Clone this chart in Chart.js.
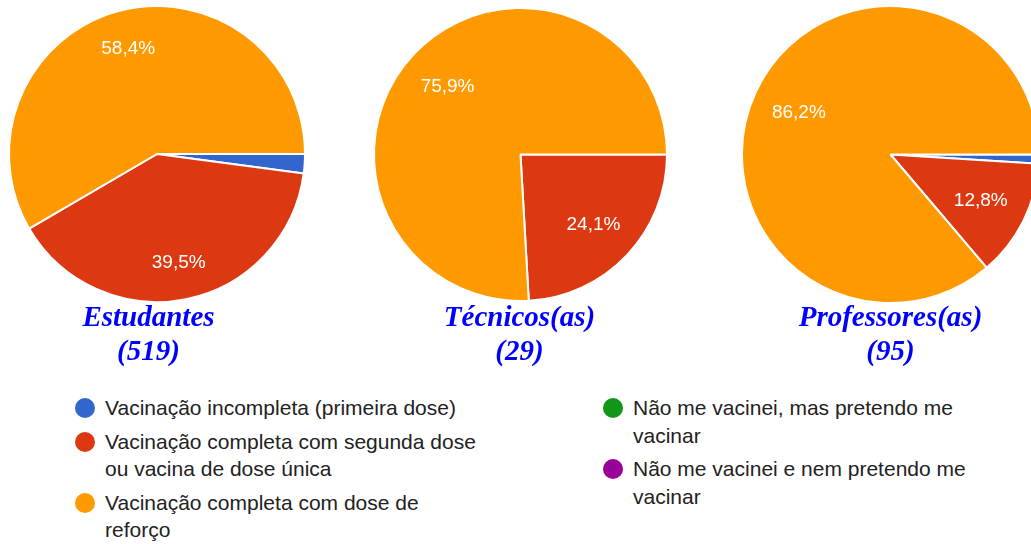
<!DOCTYPE html>
<html>
<head>
<meta charset="utf-8">
<script src="https://cdn.jsdelivr.net/npm/chart.js@4.4.1/dist/chart.umd.min.js"></script>
<style>
  html, body { margin: 0; padding: 0; background: #fff; }
  body { width: 1031px; height: 544px; overflow: hidden; position: relative; }
  canvas { position: absolute; }
  .title {
    position: absolute; width: 300px; text-align: center;
    font: italic bold 29px "Liberation Serif", "Times New Roman", serif;
    line-height: 34px; color: #0000ff;
  }
  .legend {
    position: absolute; top: 394px;
    font: 21px "Liberation Sans", Arial, sans-serif; color: #222; line-height: 27.5px;
  }
  .item { display: flex; align-items: flex-start; margin-bottom: 6px; }
  .dot { width: 20px; height: 20px; border-radius: 50%; flex: none; margin: 4px 10px 0 0; }
  .item span { max-width: 384px; }
</style>
</head>
<body>
<div class="legend" id="leg1" style="left:75px"></div>
<div class="legend" id="leg2" style="left:603px"></div>
<script>
// answer options (legend order = slice order)
const categories = [
  'Vacinação incompleta (primeira dose)',
  'Vacinação completa com segunda dose ou vacina de dose única',
  'Vacinação completa com dose de reforço',
  'Não me vacinei, mas pretendo me vacinar',
  'Não me vacinei e nem pretendo me vacinar'
];
const colors = ['#3366cc', '#dc3912', '#ff9900', '#109618', '#990099'];

// groups and respondent counts
const groups = ['Estudantes', 'Técnicos(as)', 'Professores(as)'];
const groupCounts = [519, 29, 95];

// percentages per group
const estudantesPct = [2.1, 39.5, 58.4, 0, 0];
const tecnicosPct = [0, 24.1, 75.9, 0, 0];
const professoresPct = [1.0, 12.8, 86.2, 0, 0];

// draws the white % text inside slices that are big enough
const pctLabels = {
  id: 'pctLabels',
  afterDatasetsDraw(chart, args, opts) {
    const ctx = chart.ctx;
    const meta = chart.getDatasetMeta(0);
    const data = chart.data.datasets[0].data;
    ctx.save();
    ctx.fillStyle = '#fff';
    ctx.font = '19px "Liberation Sans", Arial, sans-serif';
    ctx.textAlign = 'center';
    ctx.textBaseline = 'middle';
    meta.data.forEach((arc, i) => {
      if (data[i] < 5) return;
      const p = arc.getProps(['x', 'y', 'startAngle', 'endAngle', 'outerRadius'], true);
      const mid = (p.startAngle + p.endAngle) / 2;
      const r = p.outerRadius * opts.frac;
      ctx.fillText(data[i].toFixed(1).replace('.', ',') + '%',
        p.x + Math.cos(mid) * r, p.y + Math.sin(mid) * r + 1);
    });
    ctx.restore();
  }
};

function makePie(values, cx, cy, R, frac) {
  const size = Math.ceil(2 * R + 10);
  const cv = document.createElement('canvas');
  cv.width = size; cv.height = size;
  cv.style.left = (cx - size / 2) + 'px';
  cv.style.top = (cy - size / 2) + 'px';
  document.body.appendChild(cv);
  new Chart(cv, {
    type: 'pie',
    data: {
      labels: categories,
      datasets: [{
        data: values,
        backgroundColor: colors,
        borderColor: '#fff',
        borderWidth: 2
      }]
    },
    options: {
      responsive: false,
      animation: false,
      rotation: 90,
      radius: R + 1,
      layout: { padding: 0 },
      plugins: {
        legend: { display: false },
        tooltip: { enabled: false },
        pctLabels: { frac: frac }
      }
    },
    plugins: [pctLabels]
  });
}

function addTitle(i, cx) {
  const d = document.createElement('div');
  d.className = 'title';
  d.style.left = (cx - 150) + 'px';
  d.style.top = '299px';
  d.innerHTML = groups[i] + '<br>(' + groupCounts[i] + ')';
  document.body.appendChild(d);
}

makePie(estudantesPct, 157, 153.5, 147, 0.745);
makePie(tecnicosPct, 520.5, 154, 145.5, 0.685);
makePie(professoresPct, 890.5, 154.5, 147.5, 0.68);

addTitle(0, 148.5);
addTitle(1, 519.5);
addTitle(2, 890.5);

// html legend, split into two columns
categories.forEach((c, i) => {
  const item = document.createElement('div');
  item.className = 'item';
  item.innerHTML = '<div class="dot" style="background:' + colors[i] + '"></div><span>' + c + '</span>';
  document.getElementById(i < 3 ? 'leg1' : 'leg2').appendChild(item);
});
</script>
</body>
</html>
